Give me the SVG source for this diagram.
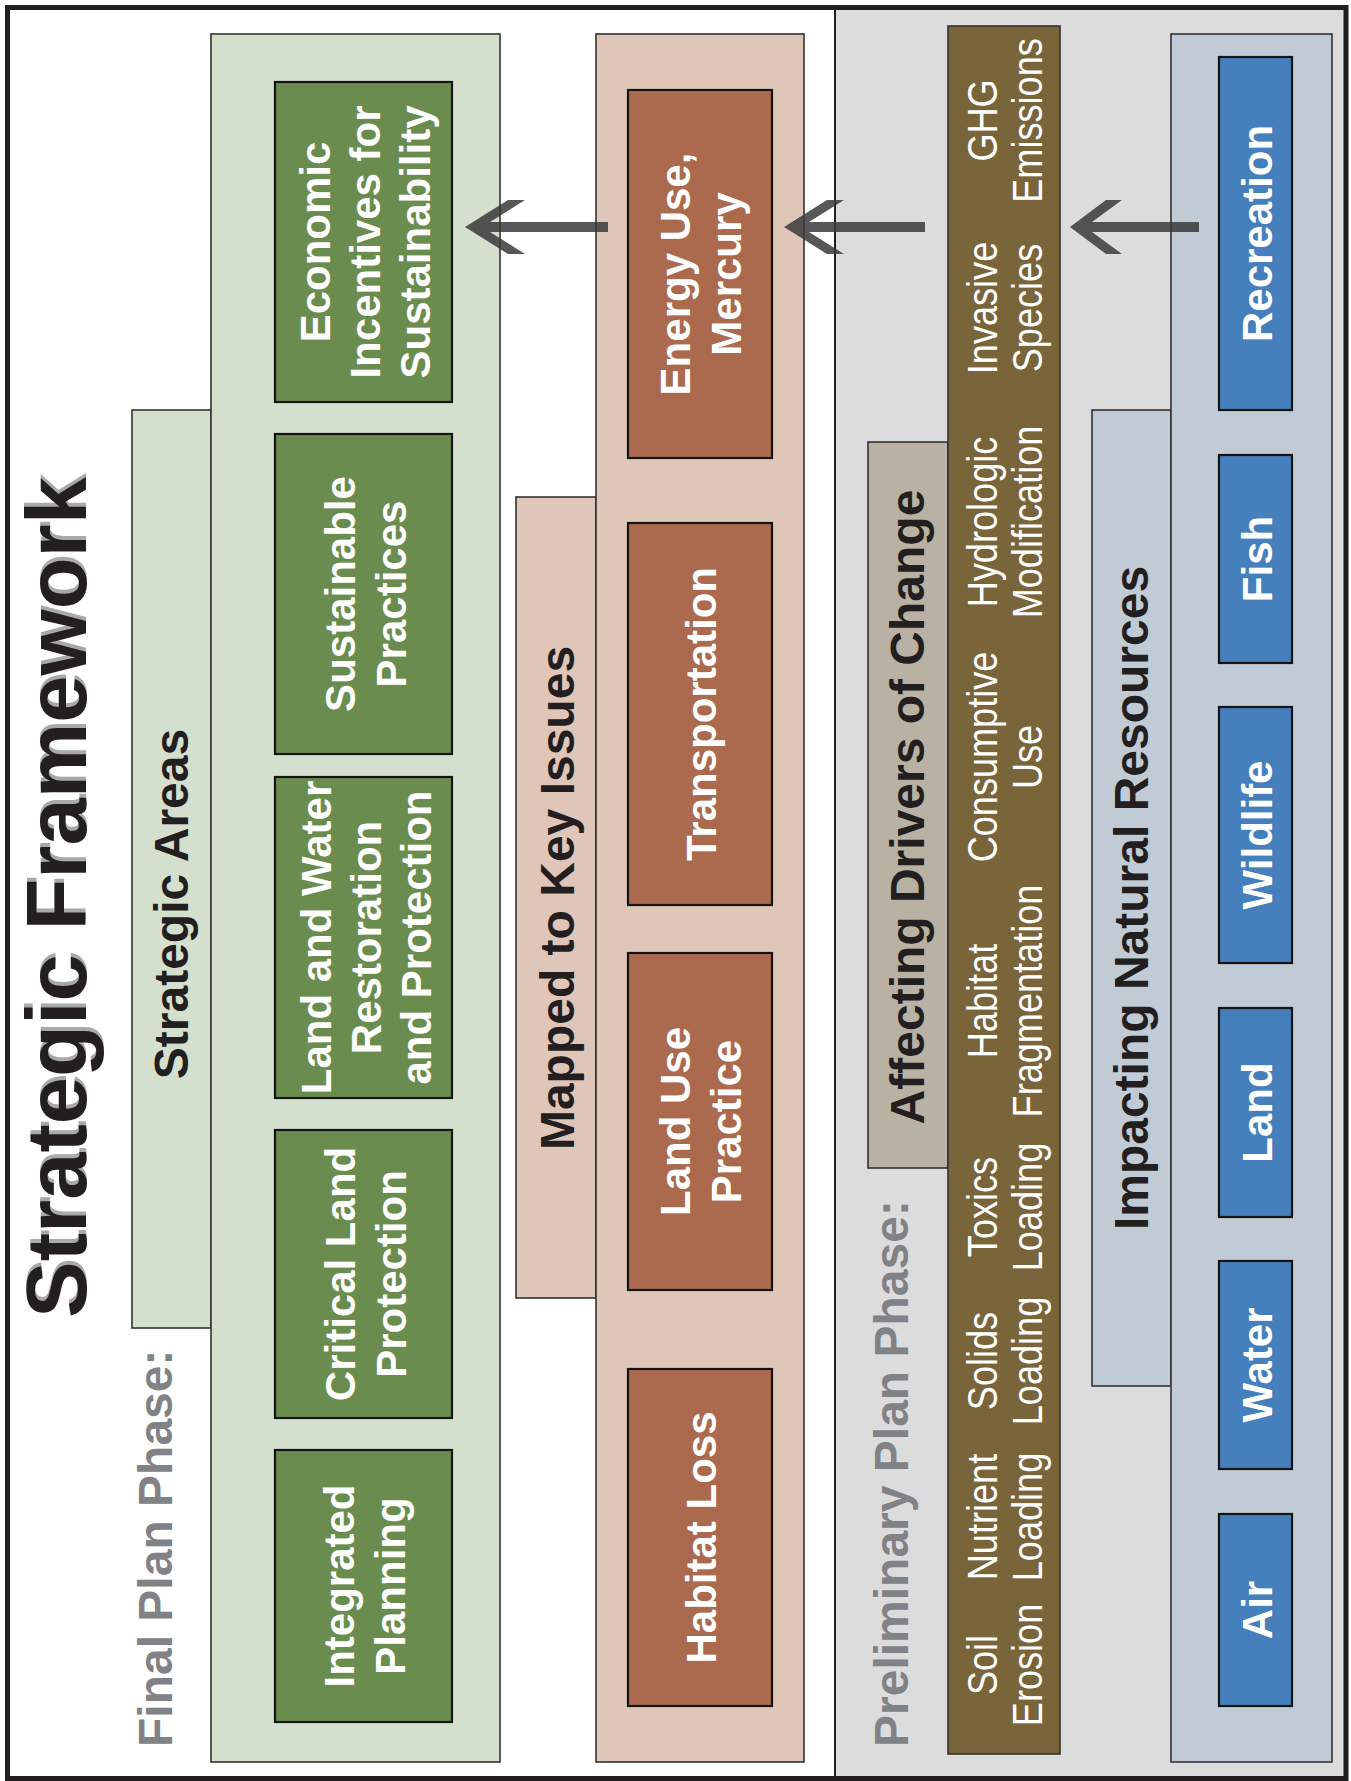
<svg xmlns="http://www.w3.org/2000/svg" width="1351" height="1781" viewBox="0 0 1351 1781">
<style>
text{font-family:"Liberation Sans",Arial,Helvetica,sans-serif;}
.cont{stroke:#333;stroke-width:1.6}
.box{stroke:#141414;stroke-width:2.2}
.green{fill:#d4dfce}
.gbox{fill:#6a8d4f}
.pink{fill:#e0c5b9}
.bbox{fill:#ab6a4d}
.blue{fill:#c1cbd5}
.nbox{fill:#4680bc}
.bt{fill:#fff;font-weight:bold;font-size:42px;text-anchor:middle}
.hd{fill:#231f20;font-weight:bold;font-size:48px;text-anchor:middle}
.ph{fill:#808285;font-weight:bold;font-size:48px}
.dv{fill:#fff;font-size:42px;text-anchor:middle}
.arrow{fill:#3a3a3a;fill-opacity:0.85}
</style>
<rect x="0" y="0" width="1351" height="1781" fill="#fff"/>
<rect x="835" y="7.5" width="511" height="1771.5" fill="#dcdcdc"/>
<line x1="835" y1="7.5" x2="835" y2="1779" stroke="#231f20" stroke-width="2"/>

<g id="title">
<text transform="translate(90,897.5) rotate(-90) translate(4,0)" style="fill:#a7a9ac;font-weight:bold;font-size:85px;text-anchor:middle" x="0" y="-4">Strategic Framework</text>
<text transform="translate(86,897.5) rotate(-90)" style="fill:#231f20;font-weight:bold;font-size:85px;text-anchor:middle">Strategic Framework</text>
</g>
<g id="final-phase-label"><text class="ph" transform="translate(172,1747) rotate(-90)">Final Plan Phase:</text></g>
<g id="prelim-phase-label"><text class="ph" transform="translate(908,1747) rotate(-90)">Preliminary Plan Phase:</text></g>

<g id="strategic-areas">
<rect class="cont green" x="132" y="410" width="79" height="918"/>
<rect class="cont green" x="211" y="34" width="289" height="1728"/>
<text class="hd" transform="translate(188,904) rotate(-90)">Strategic Areas</text>
</g>
<g id="sa-economic"><rect class="box gbox" x="275" y="82" width="177" height="320"/>
<text class="bt" transform="translate(363.5,242) rotate(-90)"><tspan x="0" y="-34">Economic</tspan><tspan x="0" y="16">Incentives for</tspan><tspan x="0" y="66">Sustainability</tspan></text></g>
<g id="sa-sustainable"><rect class="box gbox" x="275" y="434" width="177" height="320"/>
<text class="bt" transform="translate(363.5,594) rotate(-90)"><tspan x="0" y="-9">Sustainable</tspan><tspan x="0" y="42">Practices</tspan></text></g>
<g id="sa-landwater"><rect class="box gbox" x="275" y="777" width="177" height="321"/>
<text class="bt" transform="translate(363.5,937.5) rotate(-90)"><tspan x="0" y="-33">Land and Water</tspan><tspan x="0" y="17">Restoration</tspan><tspan x="0" y="67">and Protection</tspan></text></g>
<g id="sa-critical"><rect class="box gbox" x="275" y="1130" width="177" height="288"/>
<text class="bt" transform="translate(363.5,1274) rotate(-90)"><tspan x="0" y="-9">Critical Land</tspan><tspan x="0" y="42">Protection</tspan></text></g>
<g id="sa-integrated"><rect class="box gbox" x="275" y="1450" width="177" height="272"/>
<text class="bt" transform="translate(363.5,1586) rotate(-90)"><tspan x="0" y="-10">Integrated</tspan><tspan x="0" y="41">Planning</tspan></text></g>

<g id="key-issues">
<rect class="cont pink" x="516" y="497" width="80" height="801"/>
<rect class="cont pink" x="596" y="34" width="208" height="1728"/>
<text class="hd" transform="translate(574,898) rotate(-90)">Mapped to Key Issues</text>
</g>
<g id="ki-energy"><rect class="box bbox" x="628" y="90" width="144" height="368"/>
<text class="bt" transform="translate(700,274) rotate(-90)"><tspan x="0" y="-10">Energy Use,</tspan><tspan x="0" y="41">Mercury</tspan></text></g>
<g id="ki-transport"><rect class="box bbox" x="628" y="523" width="144" height="382"/>
<text class="bt" transform="translate(700,714) rotate(-90)"><tspan x="0" y="16">Transportation</tspan></text></g>
<g id="ki-landuse"><rect class="box bbox" x="628" y="953" width="144" height="337"/>
<text class="bt" transform="translate(700,1121.5) rotate(-90)"><tspan x="0" y="-10">Land Use</tspan><tspan x="0" y="41">Practice</tspan></text></g>
<g id="ki-habitat"><rect class="box bbox" x="628" y="1369" width="144" height="337"/>
<text class="bt" transform="translate(700,1537.5) rotate(-90)"><tspan x="0" y="16">Habitat Loss</tspan></text></g>

<g id="drivers">
<rect class="cont" fill="#b9b1a3" x="868" y="442" width="80" height="726"/>
<rect class="cont" fill="#7a643a" x="948" y="26" width="112" height="1728"/>
<text class="hd" transform="translate(924,807) rotate(-90)">Affecting Drivers of Change</text>
<g class="dv">
<text class="dv" transform="translate(1003.5,1665) rotate(-90) scale(0.86,1)"><tspan x="0" y="-6.5">Soil</tspan><tspan x="0" y="38.5">Erosion</tspan></text>
<text class="dv" transform="translate(1003.5,1517) rotate(-90) scale(0.86,1)"><tspan x="0" y="-6.5">Nutrient</tspan><tspan x="0" y="38.5">Loading</tspan></text>
<text class="dv" transform="translate(1003.5,1361) rotate(-90) scale(0.86,1)"><tspan x="0" y="-6.5">Solids</tspan><tspan x="0" y="38.5">Loading</tspan></text>
<text class="dv" transform="translate(1003.5,1207) rotate(-90) scale(0.86,1)"><tspan x="0" y="-6.5">Toxics</tspan><tspan x="0" y="38.5">Loading</tspan></text>
<text class="dv" transform="translate(1003.5,1001) rotate(-90) scale(0.86,1)"><tspan x="0" y="-6.5">Habitat</tspan><tspan x="0" y="38.5">Fragmentation</tspan></text>
<text class="dv" transform="translate(1003.5,757) rotate(-90) scale(0.86,1)"><tspan x="0" y="-6.5">Consumptive</tspan><tspan x="0" y="38.5">Use</tspan></text>
<text class="dv" transform="translate(1003.5,522) rotate(-90) scale(0.86,1)"><tspan x="0" y="-6.5">Hydrologic</tspan><tspan x="0" y="38.5">Modification</tspan></text>
<text class="dv" transform="translate(1003.5,308) rotate(-90) scale(0.86,1)"><tspan x="0" y="-6.5">Invasive</tspan><tspan x="0" y="38.5">Species</tspan></text>
<text class="dv" transform="translate(1003.5,120.5) rotate(-90) scale(0.86,1)"><tspan x="0" y="-6.5">GHG</tspan><tspan x="0" y="38.5">Emissions</tspan></text>
</g>
</g>

<g id="resources">
<rect class="cont blue" x="1092" y="410" width="79" height="976"/>
<rect class="cont blue" x="1171" y="34" width="161" height="1728"/>
<text class="hd" transform="translate(1148,898) rotate(-90)">Impacting Natural Resources</text>
</g>
<g id="nr-recreation"><rect class="box nbox" x="1219" y="57" width="73" height="353"/>
<text class="bt" transform="translate(1255.5,233.5) rotate(-90)"><tspan x="0" y="16">Recreation</tspan></text></g>
<g id="nr-fish"><rect class="box nbox" x="1219" y="455" width="73" height="208"/>
<text class="bt" transform="translate(1255.5,559) rotate(-90)"><tspan x="0" y="16">Fish</tspan></text></g>
<g id="nr-wildlife"><rect class="box nbox" x="1219" y="707" width="73" height="256"/>
<text class="bt" transform="translate(1255.5,835) rotate(-90)"><tspan x="0" y="16">Wildlife</tspan></text></g>
<g id="nr-land"><rect class="box nbox" x="1219" y="1008" width="73" height="209"/>
<text class="bt" transform="translate(1255.5,1112.5) rotate(-90)"><tspan x="0" y="16">Land</tspan></text></g>
<g id="nr-water"><rect class="box nbox" x="1219" y="1261" width="73" height="208"/>
<text class="bt" transform="translate(1255.5,1365) rotate(-90)"><tspan x="0" y="16">Water</tspan></text></g>
<g id="nr-air"><rect class="box nbox" x="1219" y="1514" width="73" height="192"/>
<text class="bt" transform="translate(1255.5,1610) rotate(-90)"><tspan x="0" y="16">Air</tspan></text></g>

<g id="connectors">
<polygon class="arrow" points="465,227 508,200 525,200 490,222 608,222 608,232 490,232 525,254 508,254"/>
<polygon class="arrow" points="784,227 827,200 844,200 809,222 925,222 925,232 809,232 844,254 827,254"/>
<polygon class="arrow" points="1070,227 1106,200 1122,200 1092,222 1199,222 1199,232 1092,232 1122,254 1106,254"/>
</g>

<rect x="7.5" y="7.5" width="1338.5" height="1771" fill="none" stroke="#231f20" stroke-width="5"/>
</svg>
